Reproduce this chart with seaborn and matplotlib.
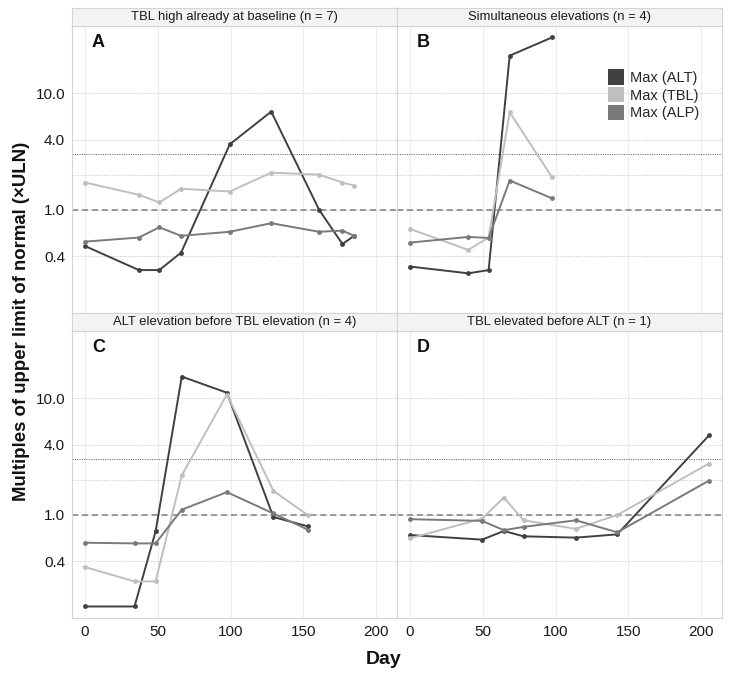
import numpy as np
import pandas as pd
import matplotlib
matplotlib.use("Agg")
import matplotlib.pyplot as plt
import seaborn as sns
from matplotlib.patches import Patch

# ==== DATA ====
panel_titles = [
    "TBL high already at baseline (n = 7)",
    "Simultaneous elevations (n = 4)",
    "ALT elevation before TBL elevation (n = 4)",
    "TBL elevated before ALT (n = 1)",
]
panel_letters = ["A", "B", "C", "D"]
series_names = ["Max (ALT)", "Max (TBL)", "Max (ALP)"]
series_colors = ["#404040", "#bfbfbf", "#7a7a7a"]

# A
a_alt_day = [0, 37, 51, 66, 99.5, 128, 161, 177, 185]
a_alt_val = [0.49, 0.305, 0.305, 0.43, 3.66, 6.98, 1.0, 0.51, 0.60]
a_tbl_day = [0, 37, 51, 66, 99.5, 128, 161, 177, 185]
a_tbl_val = [1.72, 1.35, 1.16, 1.52, 1.44, 2.09, 2.01, 1.72, 1.62]
a_alp_day = [0, 37, 51, 66, 99.5, 128, 161, 177, 185]
a_alp_val = [0.535, 0.58, 0.71, 0.60, 0.65, 0.77, 0.65, 0.665, 0.60]

# B
b_alt_day = [0, 40, 54, 68.5, 97.5]
b_alt_val = [0.327, 0.286, 0.305, 21.1, 30.2]
b_tbl_day = [0, 40, 54, 68.5, 97.5]
b_tbl_val = [0.687, 0.454, 0.58, 6.89, 1.92]
b_alp_day = [0, 40, 54, 68.5, 97.5]
b_alp_val = [0.525, 0.587, 0.575, 1.79, 1.26]

# C
c_alt_day = [0, 34, 48.5, 66.5, 97.5, 129.5, 153]
c_alt_val = [0.164, 0.164, 0.724, 15.4, 11.2, 0.96, 0.80]
c_tbl_day = [0, 34, 48.5, 66.5, 97.5, 129.5, 153]
c_tbl_val = [0.357, 0.269, 0.269, 2.19, 10.8, 1.61, 1.0]
c_alp_day = [0, 34, 48.5, 66.5, 97.5, 129.5, 153]
c_alp_val = [0.578, 0.57, 0.57, 1.11, 1.57, 1.03, 0.75]

# D
d_alt_day = [0, 49.5, 64.5, 78, 114, 142.5, 205.5]
d_alt_val = [0.673, 0.614, 0.729, 0.656, 0.639, 0.682, 4.81]
d_tbl_day = [0, 49.5, 64.5, 78, 114, 142.5, 205.5]
d_tbl_val = [0.63, 0.93, 1.41, 0.90, 0.76, 1.0, 2.76]
d_alp_day = [0, 49.5, 64.5, 78, 114, 142.5, 205.5]
d_alp_val = [0.92, 0.89, 0.74, 0.79, 0.90, 0.71, 1.97]

y_ticks = [0.4, 1.0, 4.0, 10.0]
y_tick_labels = ["0.4", "1.0", "4.0", "10.0"]
x_ticks = [0, 50, 100, 150, 200]

panel_data = [
    [(a_alt_day, a_alt_val), (a_tbl_day, a_tbl_val), (a_alp_day, a_alp_val)],
    [(b_alt_day, b_alt_val), (b_tbl_day, b_tbl_val), (b_alp_day, b_alp_val)],
    [(c_alt_day, c_alt_val), (c_tbl_day, c_tbl_val), (c_alp_day, c_alp_val)],
    [(d_alt_day, d_alt_val), (d_tbl_day, d_tbl_val), (d_alp_day, d_alp_val)],
]

rows = []
for p, series in enumerate(panel_data):
    for name, (days, vals) in zip(series_names, series):
        for d, v in zip(days, vals):
            rows.append({"panel": p, "series": name, "day": d, "value": v})
df = pd.DataFrame(rows)

# ==== STYLE ====
sns.set_style("white")
plt.rcParams["font.family"] = ["Liberation Sans", "DejaVu Sans"]

W, H = 738, 676
fig = plt.figure(figsize=(W / 100, H / 100), dpi=100)
fig.patch.set_facecolor("white")

# panel boxes in pixel coords
col_left = [72, 397]
col_w = 325
strip_top = [8, 313]
strip_h = 18
panel_h = 287

palette = dict(zip(series_names, series_colors))

for p in range(4):
    r, c = divmod(p, 2)
    left = col_left[c]
    st = strip_top[r]
    pt = st + strip_h

    ax = fig.add_axes([left / W, 1 - (pt + panel_h) / H, col_w / W, panel_h / H])
    sax = fig.add_axes([left / W, 1 - pt / H, col_w / W, strip_h / H])

    # strip
    sax.set_facecolor("#f3f3f3")
    sax.set_xticks([])
    sax.set_yticks([])
    for sp in sax.spines.values():
        sp.set_color("#d4d4d4")
        sp.set_linewidth(0.8)
    sax.text(0.5, 0.48, panel_titles[p], ha="center", va="center",
             fontsize=9.4, color="#1a1a1a", transform=sax.transAxes)

    # panel
    ax.set_yscale("log")
    ax.set_xlim(-9, 214.5)
    ax.set_ylim(0.1306, 37.9)

    for t in y_ticks:
        ax.axhline(t, color="#d3d3d3", lw=0.7, ls=(0, (1.5, 1.2)), zorder=0)
    for t in x_ticks:
        ax.axvline(t, color="#ebebeb", lw=0.7, zorder=0)
    ax.axhline(2, color="#d3d3d3", lw=0.7, ls=(0, (1.5, 1.2)), zorder=0)
    ax.axhline(3, color="#707070", lw=0.7, ls=(0, (1.2, 1.2)), zorder=1)
    ax.axhline(1, color="#7f7f7f", lw=1.1, ls=(0, (4, 2.5)), zorder=1)

    sub = df[df["panel"] == p]
    sns.lineplot(data=sub, x="day", y="value", hue="series", hue_order=series_names,
                 palette=palette, marker="o", markersize=3.5, markeredgewidth=0,
                 linewidth=1.4, estimator=None, sort=False, legend=False, ax=ax,
                 zorder=3)

    ax.set_xlabel("")
    ax.set_ylabel("")
    ax.set_yticks(y_ticks)
    ax.minorticks_off()
    ax.set_xticks(x_ticks)
    if c == 0:
        ax.set_yticklabels(y_tick_labels)
    else:
        ax.set_yticklabels([])
    if r == 1:
        ax.set_xticklabels([str(t) for t in x_ticks])
    else:
        ax.set_xticklabels([])
    ax.tick_params(axis="both", length=3, width=0.7, color="#b5b5b5",
                   labelsize=11, labelcolor="#1a1a1a", pad=2)
    if c == 1:
        ax.tick_params(axis="y", length=0)
    if r == 0:
        ax.tick_params(axis="x", length=0)
    for sp in ax.spines.values():
        sp.set_color("#d4d4d4")
        sp.set_linewidth(0.8)

    ax.text(0.0815, 0.941, panel_letters[p], transform=ax.transAxes,
            ha="center", va="center", fontsize=13, fontweight="bold", color="#111111")

    if p == 1:
        handles = [Patch(facecolor=col, edgecolor="none") for col in series_colors]
        ax.legend(handles, series_names, loc="upper left", bbox_to_anchor=(0.63, 0.87),
                  frameon=False, fontsize=10.5, handlelength=1.1, handleheight=1.25,
                  labelspacing=0.15, handletextpad=0.45, borderaxespad=0)

fig.text(0.029, 0.525, "Multiples of upper limit of normal (\u00d7ULN)", rotation=90,
         ha="center", va="center", fontsize=13.4, fontweight="bold", color="#111111")
fig.text(0.52, 0.024, "Day", ha="center", va="center", fontsize=14,
         fontweight="bold", color="#111111")

fig.savefig("out.png", dpi=100, facecolor="white")
